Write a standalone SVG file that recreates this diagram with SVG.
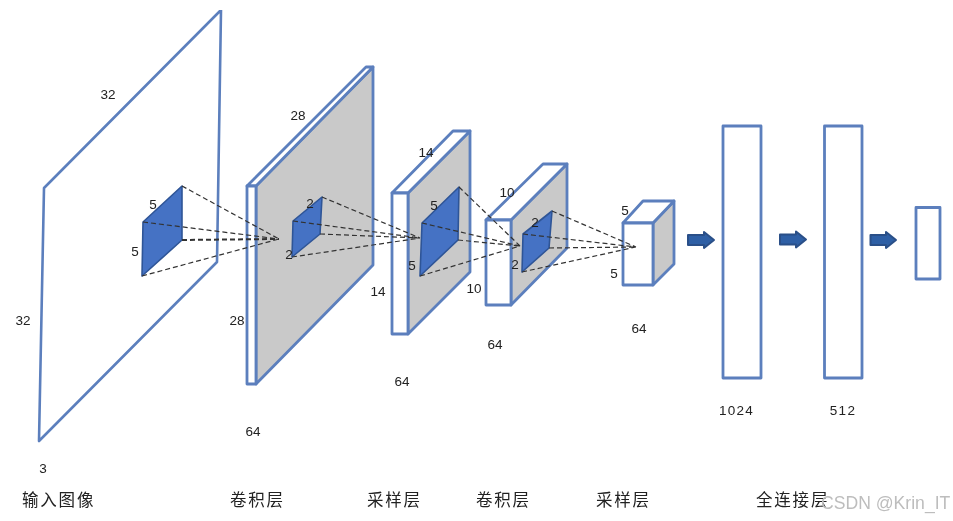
<svg xmlns="http://www.w3.org/2000/svg" width="953" height="521" viewBox="0 0 953 521">
<defs>
<style>
.box{fill:#fff;stroke:#5b7fbd;stroke-width:2.8;stroke-linejoin:round}
.side{fill:#c9c9c9;stroke:#5b7fbd;stroke-width:2.8;stroke-linejoin:round}
.frame{fill:none;stroke:#5b7fbd;stroke-width:2.6;stroke-linejoin:round;stroke-linecap:round}
.patch{fill:#4472c4;stroke:#2f5597;stroke-width:1.6;stroke-linejoin:round}
.dash{fill:none;stroke:#333;stroke-width:1.2;stroke-dasharray:5 3}
.arrow{fill:#2f5fa5;stroke:#2b5088;stroke-width:2;stroke-linejoin:round}
text{font-family:"Liberation Sans","Noto Sans CJK SC",sans-serif;fill:#222}
.n{font-size:13.500px;text-anchor:middle}
.s{letter-spacing:1.300px}
.c{font-size:16.500px;letter-spacing:1.800px}
.w{font-size:17.600px;fill:#bdbdbd}
</style>
<filter id="soft" x="0" y="0" width="100%" height="100%"><feGaussianBlur stdDeviation="0.4"/></filter>
</defs>
<rect width="953" height="521" fill="#fff"/>
<g filter="url(#soft)">
<g id="input-image">
<path class="frame" d="M217 262L39 441L44 188L221 10Z"/>
<polygon class="patch" points="143,222 182,186 182,240 142,276"/>
<text class="n" x="108" y="98.500">32</text>
<text class="n" x="153" y="208.500">5</text>
<text class="n" x="135" y="256">5</text>
<text class="n" x="23" y="325">32</text>
<text class="n" x="43" y="473">3</text>
</g>
<g id="conv-1">
<polygon class="side" points="256,186 373,67 373,265 256,384"/>
<polygon class="box" points="247,186 366,67 373,67 256,186"/>
<rect class="box" x="247" y="186" width="9" height="198"/>
<polygon class="patch" points="293,221 322,197 320,234 292,257"/>
<text class="n" x="298" y="120">28</text>
<text class="n" x="310" y="208">2</text>
<text class="n" x="289" y="259">2</text>
<text class="n" x="237" y="325">28</text>
<text class="n" x="253" y="436">64</text>
</g>
<g id="pool-1">
<polygon class="side" points="408,193 470,131 470,272 408,334"/>
<polygon class="box" points="392,193 453,131 470,131 408,193"/>
<rect class="box" x="392" y="193" width="16" height="141"/>
<polygon class="patch" points="422,223 459,187 458,240 420,276"/>
<text class="n" x="426" y="157">14</text>
<text class="n" x="434" y="210">5</text>
<text class="n" x="412" y="270">5</text>
<text class="n" x="378" y="296">14</text>
<text class="n" x="402" y="386">64</text>
</g>
<g id="conv-2">
<polygon class="side" points="511,220 567,164 567,248 511,305"/>
<polygon class="box" points="486,220 543,164 567,164 511,220"/>
<rect class="box" x="486" y="220" width="25" height="85"/>
<polygon class="patch" points="523,234 552,211 549,248 522,272"/>
<text class="n" x="507" y="197">10</text>
<text class="n" x="535" y="227">2</text>
<text class="n" x="515" y="269">2</text>
<text class="n" x="474" y="293">10</text>
<text class="n" x="495" y="349">64</text>
</g>
<g id="pool-2">
<polygon class="side" points="653,223 674,201 674,264 653,285"/>
<polygon class="box" points="623,223 643,201 674,201 653,223"/>
<rect class="box" x="623" y="223" width="30" height="62"/>
<text class="n" x="625" y="215">5</text>
<text class="n" x="614" y="278">5</text>
<text class="n" x="639" y="333">64</text>
</g>
<g id="fc-1024">
<rect class="box" x="723" y="126" width="38" height="252"/>
<text class="n s" x="736.500" y="415">1024</text>
</g>
<g id="fc-512">
<rect class="box" x="824.500" y="126" width="37.500" height="252"/>
<text class="n s" x="843" y="415">512</text>
</g>
<g id="output">
<rect class="box" x="916" y="207.500" width="24" height="71.500"/>
</g>
<g id="connectors">
<path class="dash" d="M182 186L279 239M143 222L279 239M142 276L279 239"/>
<path class="dash" style="stroke-width:2" d="M182 240L279 239"/>
<path class="dash" d="M322 197L420 238M293 221L420 238M320 234L420 238M292 257L420 238"/>
<path class="dash" d="M459 187L520 246M422 223L520 246M458 240L520 246M420 276L520 246"/>
<path class="dash" d="M552 211L636 247M523 234L636 247M549 248L636 247M522 272L636 247"/>
<path class="arrow" d="M688 235H704V232L714 240L704 248V245H688Z"/>
<path class="arrow" d="M780 234.500H796V231.500L806 239.500L796 247.500V244.500H780Z"/>
<path class="arrow" d="M870.500 235H886V232L896 240L886 248V245H870.500Z"/>
</g>
<g id="captions">
<text class="c" x="22" y="506">输入图像</text>
<text class="c" x="230" y="506">卷积层</text>
<text class="c" x="367" y="506">采样层</text>
<text class="c" x="476" y="506">卷积层</text>
<text class="c" x="596" y="506">采样层</text>
<text class="c" x="756" y="506">全连接层</text>
<text class="w" x="821" y="509">CSDN @Krin_IT</text>
</g>
</g>
</svg>
